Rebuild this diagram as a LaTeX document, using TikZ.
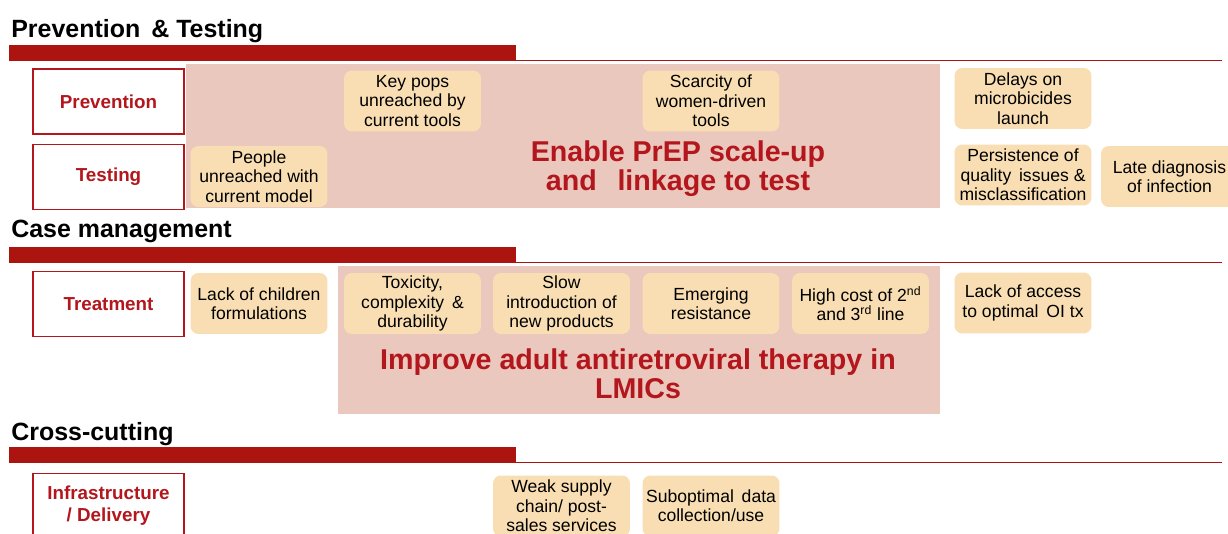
\documentclass[tikz,border=0pt]{standalone}
\usepackage{fontspec}
\setmainfont{Liberation Sans}
\usepackage{xcolor}
\usetikzlibrary{positioning}

\definecolor{barred}{HTML}{AC1410}
\definecolor{labred}{HTML}{B3161C}
\definecolor{focuspink}{HTML}{EBC8BD}
\definecolor{issuefill}{HTML}{F8DEB2}

\begin{document}
\begin{tikzpicture}[
  x=0.02cm, y=-0.02cm,
  sechead/.style={
    anchor=base west, inner sep=0pt,
    font=\fontsize{14.2}{16}\selectfont\bfseries
  },
  catbox/.style={
    rectangle, draw=labred, line width=1.1pt, fill=white,
    minimum width=3.02cm, minimum height=1.3cm, align=center,
    text=labred, font=\fontsize{10.7}{12.5}\selectfont\bfseries
  },
  issue/.style={
    rectangle, rounded corners=4.5pt, fill=issuefill,
    minimum width=2.74cm, minimum height=1.22cm, align=center,
    inner sep=1pt, font=\fontsize{10}{11}\selectfont
  },
  focus/.style={rectangle, fill=focuspink, inner sep=0pt},
  focustext/.style={
    align=center, text=labred,
    font=\fontsize{16.3}{16.6}\selectfont\bfseries
  },
  rule/.style={draw=barred, line width=0.7pt},
]
\useasboundingbox (0,0) rectangle (1228,534);
\clip (0,0) rectangle (1228,534);

%%% Section headings and bars
\node[sechead] (hprev) at (11,37)  {Prevention \,\& Testing};
\node[sechead] (hcase) at (11,237) {Case management};
\node[sechead] (hcross) at (11,440) {Cross-cutting};

\fill[barred] (9,45)  rectangle (516,61);
\fill[barred] (9,247) rectangle (516,263);
\fill[barred] (9,447) rectangle (516,463);
\draw[rule] (516,60.6)  -- (1222,60.6);
\draw[rule] (516,262.6) -- (1222,262.6);
\draw[rule] (516,462.6) -- (1222,462.6);

%%% Focus areas (drawn first, boxes sit on top)
\node[focus, minimum width=15.08cm, minimum height=2.88cm] (prepzone) at (563,136) {};
\node[focus, minimum width=12.04cm, minimum height=2.96cm] (artzone)  at (639,340) {};

\node[focustext] (preptext) at (678,169) {Enable PrEP scale-up\\and \, linkage to test};
\node[focustext] (arttext)  at (638,374) {Improve adult antiretroviral therapy in\\LMICs};

%%% Category boxes
\node[catbox] (prevent) at (108.5,101.5) {Prevention};
\node[catbox] (testing) at (108.5,177)   {Testing};
\node[catbox] (treat)   at (108.5,304)   {Treatment};
\node[catbox] (infra)   at (108.5,506)   {Infrastructure\\/ Delivery};

%%% Prevention & testing issues
\node[issue] (keypops)  at (412.5,101)  {Key pops\\unreached by\\current tools};
\node[issue] (scarcity) at (711,101)    {Scarcity of\\women-driven\\tools};
\node[issue] (people)   at (259,176.5)  {People\\unreached with\\current model};
\node[issue] (delays)   at (1023,98.5)  {Delays on\\microbicides\\launch};
\node[issue] (persist)  at (1023,175)   {Persistence of\\quality \,issues \&\\misclassification};
\node[issue] (latediag) at (1169.5,176.5) {Late diagnosis\\of infection};

%%% Case management issues
\node[issue] (children) at (259,303.5)   {Lack of children\\formulations};
\node[issue] (toxicity) at (412.5,303.5) {Toxicity,\\complexity \,\&\\durability};
\node[issue] (slowintro) at (561.5,303.5) {Slow\\introduction of\\new products};
\node[issue] (emerging) at (711,303.5)   {Emerging\\resistance};
\node[issue] (highcost) at (860.5,303.5) {High cost of 2\textsuperscript{nd}\\and 3\textsuperscript{rd} line};
\node[issue] (access)   at (1023,303)    {Lack of access\\to optimal \,OI tx};

%%% Cross-cutting issues
\node[issue] (supply)   at (561.5,506)   {Weak supply\\chain/ post-\\sales services};
\node[issue] (datause)  at (711,506)     {Suboptimal \,data\\collection/use};

\end{tikzpicture}
\end{document}
